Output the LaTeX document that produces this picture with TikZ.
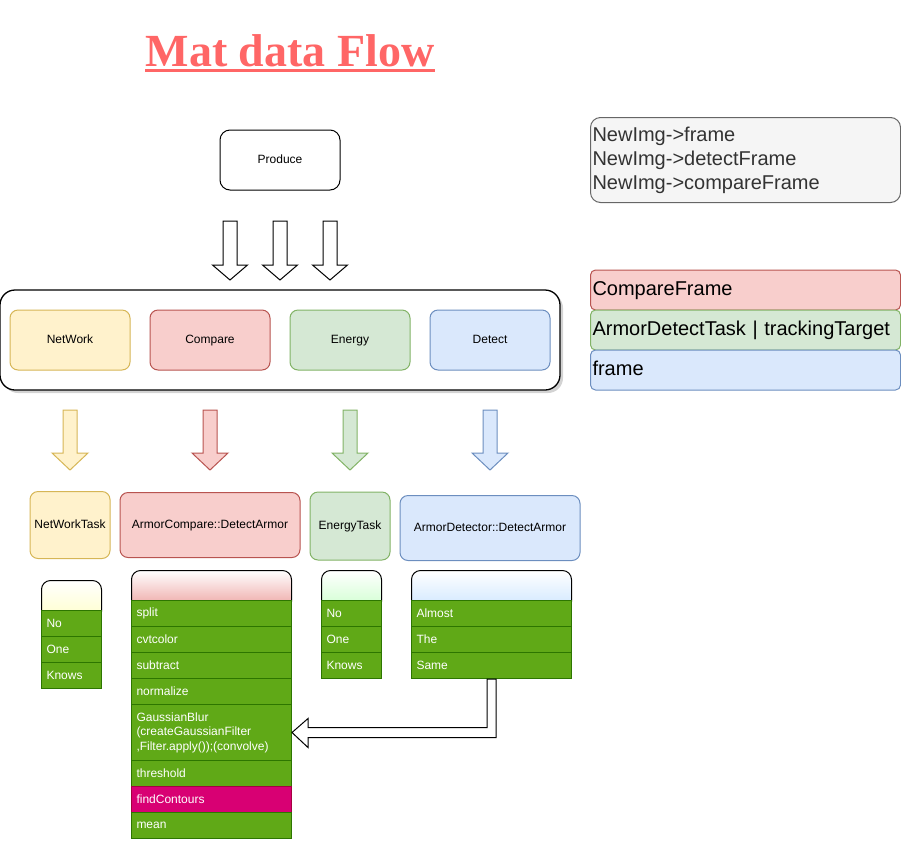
\documentclass[tikz,border=0pt]{standalone}
\usepackage{fontspec}
\setmainfont{Liberation Sans}
\newfontfamily\titlefont{Liberation Serif}
\usepackage{xcolor}
\usepackage{tikz}
\usetikzlibrary{calc,shadows}

\definecolor{titlered}{HTML}{FF6666}
\definecolor{netfill}{HTML}{FFF2CC}
\definecolor{netline}{HTML}{D6B656}
\definecolor{cmpfill}{HTML}{F8CECC}
\definecolor{cmpline}{HTML}{B85450}
\definecolor{engfill}{HTML}{D5E8D4}
\definecolor{engline}{HTML}{82B366}
\definecolor{detfill}{HTML}{DAE8FC}
\definecolor{detline}{HTML}{6C8EBF}
\definecolor{notefill}{HTML}{F5F5F5}
\definecolor{noteline}{HTML}{666666}
\definecolor{notetext}{HTML}{333333}
\definecolor{rowfill}{HTML}{60A917}
\definecolor{rowline}{HTML}{2D7600}
\definecolor{hotfill}{HTML}{D80073}
\definecolor{hotline}{HTML}{A50040}
\definecolor{nethead}{HTML}{FFFFC8}
\definecolor{cmphead}{HTML}{EC9E9C}
\definecolor{enghead}{HTML}{CCFFCC}
\definecolor{dethead}{HTML}{CCE5FF}

\tikzset{
  titletext/.style={font=\titlefont\bfseries\fontsize{46}{55}\selectfont, text=titlered, anchor=base, inner sep=0pt},
  box/.style={draw, rounded corners=8pt, minimum width=120pt, minimum height=60pt, text height=9pt, text depth=2.5pt, font=\fontsize{12}{14}\selectfont},
  netbox/.style={fill=netfill, draw=netline},
  cmpbox/.style={fill=cmpfill, draw=cmpline},
  engbox/.style={fill=engfill, draw=engline},
  detbox/.style={fill=detfill, draw=detline},
  hollowarrow/.style={draw=black, fill=white},
  listhead/.style={draw, rounded corners=9pt, top color=white, bottom color=#1, minimum height=40pt, anchor=north west, inner sep=0pt},
  listrow/.style={draw=rowline, fill=rowfill, text=white, text width=#1, inner xsep=5pt, inner ysep=0pt, minimum height=26pt, align=left, anchor=north west, font=\fontsize{12}{14.5}\selectfont},
  note/.style={draw=noteline, fill=notefill, text=notetext, rounded corners=10pt, minimum width=310pt, minimum height=85pt, text width=306pt, inner xsep=2pt, align=left, font=\fontsize{20}{24}\selectfont},
  legend/.style={rounded corners=5pt, minimum height=40pt, text width=306pt, text height=15pt, text depth=4pt, inner xsep=2pt, inner ysep=0pt, align=left, font=\fontsize{20}{24}\selectfont}
}

\newcommand{\fatarrow}[7]{%
  \draw[#1] (#2-#6,#3) -- (#2+#6,#3) -- (#2+#6,#4) -- (#2+#7,#4) -- (#2,#5) -- (#2-#7,#4) -- (#2-#6,#4) -- cycle;}

\begin{document}
\begin{tikzpicture}[x=1pt, y=-1pt, line width=1pt]
  \useasboundingbox (0,0) rectangle (901,844);

  \node[titletext] (title) at (290,66) {Mat data Flow};
  \draw[titlered, line width=3pt] ([yshift=-4.5pt]title.base west) -- ([yshift=-4.5pt]title.base east);

  \node[box, fill=white, rounded corners=10pt] (produce) at (280,160) {Produce};

  \fatarrow{hollowarrow}{230}{221}{265}{280}{7}{17.5}
  \fatarrow{hollowarrow}{280}{221}{265}{280}{7}{17.5}
  \fatarrow{hollowarrow}{330}{221}{265}{280}{7}{17.5}

  \node[box, fill=white, line width=1.3pt, minimum width=560pt, minimum height=100pt, rounded corners=15pt,
        drop shadow={shadow xshift=3pt, shadow yshift=-3pt, opacity=0.35}] (tasks) at (280,340) {};
  \node[box, netbox] (network) at (70,340) {NetWork};
  \node[box, cmpbox] (compare) at (210,340) {Compare};
  \node[box, engbox] (energy) at (350,340) {Energy};
  \node[box, detbox] (detect) at (490,340) {Detect};

  \fatarrow{draw=netline, fill=netfill}{70}{410}{453}{470}{7}{18}
  \fatarrow{draw=cmpline, fill=cmpfill}{210}{410}{453}{470}{7}{18}
  \fatarrow{draw=engline, fill=engfill}{350}{410}{453}{470}{7}{18}
  \fatarrow{draw=detline, fill=detfill}{490}{410}{453}{470}{7}{18}

  \node[box, netbox, minimum width=80pt, minimum height=67pt] (networktask) at (70,525) {NetWorkTask};
  \node[box, cmpbox, minimum width=180pt, minimum height=65pt] (comparetask) at (210,525) {ArmorCompare::DetectArmor};
  \node[box, engbox, minimum width=80pt, minimum height=68pt] (energytask) at (350,526) {EnergyTask};
  \node[box, detbox, minimum width=180pt, minimum height=65pt] (detecttask) at (490,528) {ArmorDetector::DetectArmor};

  \node[listhead=nethead, minimum width=60pt] (netlist) at (41,580) {};
  \node[listrow=50pt] (netno) at (41,610) {No};
  \node[listrow=50pt] (netone) at (41,636) {One};
  \node[listrow=50pt] (netknows) at (41,662) {Knows};

  \node[listhead=cmphead, minimum width=160pt] (cmplist) at (131,570) {};
  \node[listrow=150pt] (split) at (131,600) {split};
  \node[listrow=150pt] (cvtcolor) at (131,626) {cvtcolor};
  \node[listrow=150pt] (subtract) at (131,652) {subtract};
  \node[listrow=150pt] (normalize) at (131,678) {normalize};
  \node[listrow=150pt, minimum height=56pt] (gauss) at (131,704) {GaussianBlur\\(createGaussianFilter\\,Filter.apply());(convolve)};
  \node[listrow=150pt] (threshold) at (131,760) {threshold};
  \node[listrow=150pt, fill=hotfill, draw=hotline] (contours) at (131,786) {findContours};
  \node[listrow=150pt] (mean) at (131,812) {mean};

  \node[listhead=enghead, minimum width=60pt] (englist) at (321,570) {};
  \node[listrow=50pt] (engno) at (321,600) {No};
  \node[listrow=50pt] (engone) at (321,626) {One};
  \node[listrow=50pt] (engknows) at (321,652) {Knows};

  \node[listhead=dethead, minimum width=160pt] (detlist) at (411,570) {};
  \node[listrow=150pt] (almost) at (411,600) {Almost};
  \node[listrow=150pt] (the) at (411,626) {The};
  \node[listrow=150pt] (same) at (411,652) {Same};

  \draw[hollowarrow] ([xshift=-4.5pt]same.south) |- ($(gauss.east)+(16,-5)$) -- ++(0,-9) -- (gauss.east)
    -- ++(16,15) -- ++(0,-10) -| ([xshift=4.5pt]same.south) -- cycle;

  \node[note] (imgnote) at (745.5,160) {NewImg->frame\\NewImg->detectFrame\\NewImg->compareFrame};

  \node[legend, cmpbox] (cmpframe) at (745.5,290) {CompareFrame};
  \node[legend, engbox] (armortask) at (745.5,330) {ArmorDetectTask | trackingTarget};
  \node[legend, detbox] (frame) at (745.5,370) {frame};
\end{tikzpicture}
\end{document}
